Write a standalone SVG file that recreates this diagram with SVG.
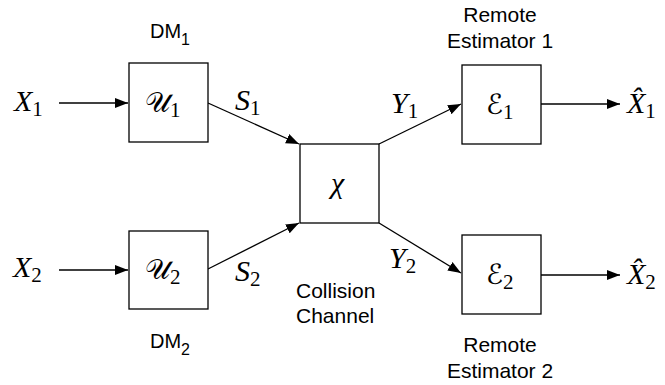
<svg xmlns="http://www.w3.org/2000/svg" width="665" height="385" viewBox="0 0 665 385">
  <style>
    .box { fill: #fff; stroke: #000; stroke-width: 1.3; }
    .wire { fill: none; stroke: #000; stroke-width: 1.3; }
    .math { font-family: "Liberation Serif", "DejaVu Serif", serif; font-style: italic; font-size: 30px; fill: #000; }
    .sub { font-style: normal; font-size: 21px; }
    .cal { font-family: "DejaVu Serif", "DejaVu Sans", serif; font-style: normal; font-size: 28px; }
    .lbl { font-family: "Liberation Sans", Arial, sans-serif; font-size: 21px; fill: #000; }
    .dm { font-size: 20px; }
    .lsub { font-size: 16px; }
  </style>
  <defs>
    <marker id="arrow" markerUnits="userSpaceOnUse" markerWidth="14" markerHeight="12" refX="13" refY="6" orient="auto">
      <path d="M0,1 L13,6 L0,11 Z" fill="#000"/>
    </marker>
  </defs>

  <!-- connectors -->
  <g id="connectors">
    <line class="wire" x1="59" y1="103" x2="128" y2="103" marker-end="url(#arrow)"/>
    <line class="wire" x1="59" y1="270" x2="128" y2="270" marker-end="url(#arrow)"/>
    <line class="wire" x1="208" y1="103" x2="299" y2="144" marker-end="url(#arrow)"/>
    <line class="wire" x1="208" y1="269" x2="299" y2="223" marker-end="url(#arrow)"/>
    <line class="wire" x1="379" y1="144" x2="461" y2="104" marker-end="url(#arrow)"/>
    <line class="wire" x1="379" y1="223" x2="461" y2="273" marker-end="url(#arrow)"/>
    <line class="wire" x1="541" y1="104" x2="620" y2="104" marker-end="url(#arrow)"/>
    <line class="wire" x1="541" y1="275" x2="620" y2="275" marker-end="url(#arrow)"/>
    <text class="math" x="235" y="110">S<tspan class="sub" dy="5">1</tspan></text>
    <text class="math" x="235" y="281">S<tspan class="sub" dy="5">2</tspan></text>
    <text class="math" x="391" y="113">Y<tspan class="sub" dy="5">1</tspan></text>
    <text class="math" x="389" y="268">Y<tspan class="sub" dy="5">2</tspan></text>
  </g>

  <!-- inputs -->
  <g id="input1"><text class="math" x="14" y="111">X<tspan class="sub" dy="5">1</tspan></text></g>
  <g id="input2"><text class="math" x="13" y="277">X<tspan class="sub" dy="5">2</tspan></text></g>

  <!-- decision makers -->
  <g id="dm1">
    <rect class="box" x="129" y="63" width="79" height="79"/>
    <text class="math" x="145" y="112"><tspan class="cal">𝒰</tspan><tspan class="sub" dy="5">1</tspan></text>
    <text class="lbl dm" x="150" y="38">DM<tspan class="lsub" dy="7">1</tspan></text>
  </g>
  <g id="dm2">
    <rect class="box" x="129" y="231" width="79" height="78"/>
    <text class="math" x="145" y="279"><tspan class="cal">𝒰</tspan><tspan class="sub" dy="5">2</tspan></text>
    <text class="lbl dm" x="150" y="348">DM<tspan class="lsub" dy="7">2</tspan></text>
  </g>

  <!-- channel -->
  <g id="channel">
    <rect class="box" x="300" y="144" width="79" height="79"/>
    <text class="math" x="331" y="193">χ</text>
    <text class="lbl" x="296" y="298">Collision</text>
    <text class="lbl" x="296" y="323">Channel</text>
  </g>

  <!-- estimators -->
  <g id="est1">
    <rect class="box" x="462" y="65" width="79" height="79"/>
    <text class="math" x="486" y="114"><tspan class="cal">ℰ</tspan><tspan class="sub" dy="5">1</tspan></text>
    <text class="lbl" x="500" y="22" text-anchor="middle">Remote</text>
    <text class="lbl" x="500" y="48" text-anchor="middle">Estimator 1</text>
  </g>
  <g id="est2">
    <rect class="box" x="462" y="235" width="79" height="79"/>
    <text class="math" x="486" y="284"><tspan class="cal">ℰ</tspan><tspan class="sub" dy="5">2</tspan></text>
    <text class="lbl" x="500" y="352" text-anchor="middle">Remote</text>
    <text class="lbl" x="500" y="378" text-anchor="middle">Estimator 2</text>
  </g>

  <!-- outputs -->
  <g id="output1"><text class="math" x="627" y="113">X̂<tspan class="sub" dy="5">1</tspan></text></g>
  <g id="output2"><text class="math" x="627" y="284">X̂<tspan class="sub" dy="5">2</tspan></text></g>
</svg>
